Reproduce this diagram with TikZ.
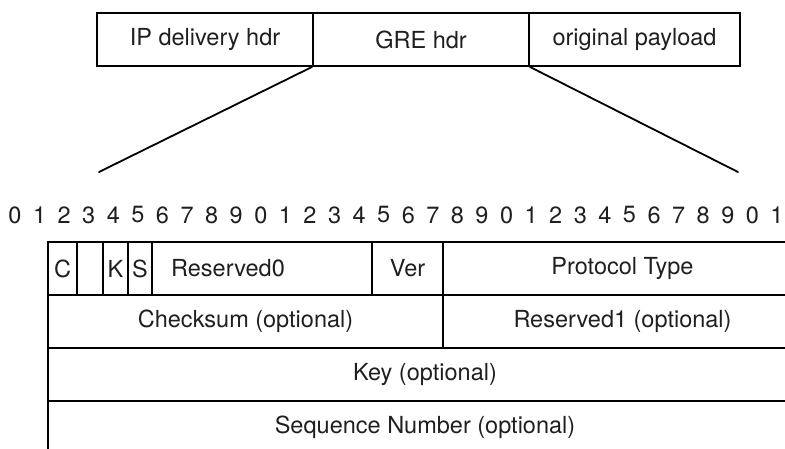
\documentclass[tikz,border=0pt]{standalone}
\usepackage{fontspec}
\setmainfont{TeX Gyre Heros}
\begin{document}
\begin{tikzpicture}[x=1pt,y=-1pt,
  every node/.style={font=\fontsize{23.5}{28}\selectfont, text=black!88},
  field/.style={draw, line width=1.8pt, inner sep=0pt, minimum height=53pt},
  zoomline/.style={line width=1.8pt, line cap=round},
  bitnum/.style={inner sep=0pt}]
\useasboundingbox (0,0) rectangle (785,448);
\clip (0,0) rectangle (785,448);

% packet: outer headers
\node[field, minimum width=216pt] (ip)  at (205,39.5) {IP delivery hdr};
\node[field, minimum width=216pt] (gre) at (421,39.5) {GRE hdr};
\node[field, minimum width=211pt] (pay) at (634.5,39.5) {original payload};

% expansion of the GRE header
\coordinate (zl) at (99,172);
\coordinate (zr) at (738,172);
\draw[zoomline] (gre.south west) -- (zl);
\draw[zoomline] (gre.south east) -- (zr);

% bit numbering
\foreach \i in {0,...,31}{
  \pgfmathtruncatemacro{\d}{mod(\i,10)}
  \node[bitnum] (b\i) at ({15+24.58*\i},215) {\d};
}

% GRE header fields, first word
\node[field, minimum width=29pt]  (fc)    at (62.5,268.5)  {C};
\node[field, minimum width=26pt]  (fr)    at (90,268.5)    {};
\node[field, minimum width=25pt]  (fk)    at (115.5,268.5) {K};
\node[field, minimum width=24pt]  (fs)    at (140,268.5)   {S};
\node[field, minimum width=220pt] (fres0) at (262,268.5)   {};
\node (tres0) at (228,268.5) {Reserved0};
\node[field, minimum width=71pt]  (fver)  at (407.5,268.5) {Ver};
\node[field, minimum width=359pt] (fpt)   at (622.5,268.5) {Protocol Type};

% optional words
\node[field, minimum width=395pt] (fcs)   at (245.5,321.5) {Checksum (optional)};
\node[field, minimum width=359pt] (fres1) at (622.5,321.5) {Reserved1 (optional)};
\node[field, minimum width=754pt] (fkey)  at (425,374.5)   {Key (optional)};
\node[field, minimum width=754pt] (fseq)  at (425,427.5)   {Sequence Number (optional)};
\end{tikzpicture}
\end{document}
